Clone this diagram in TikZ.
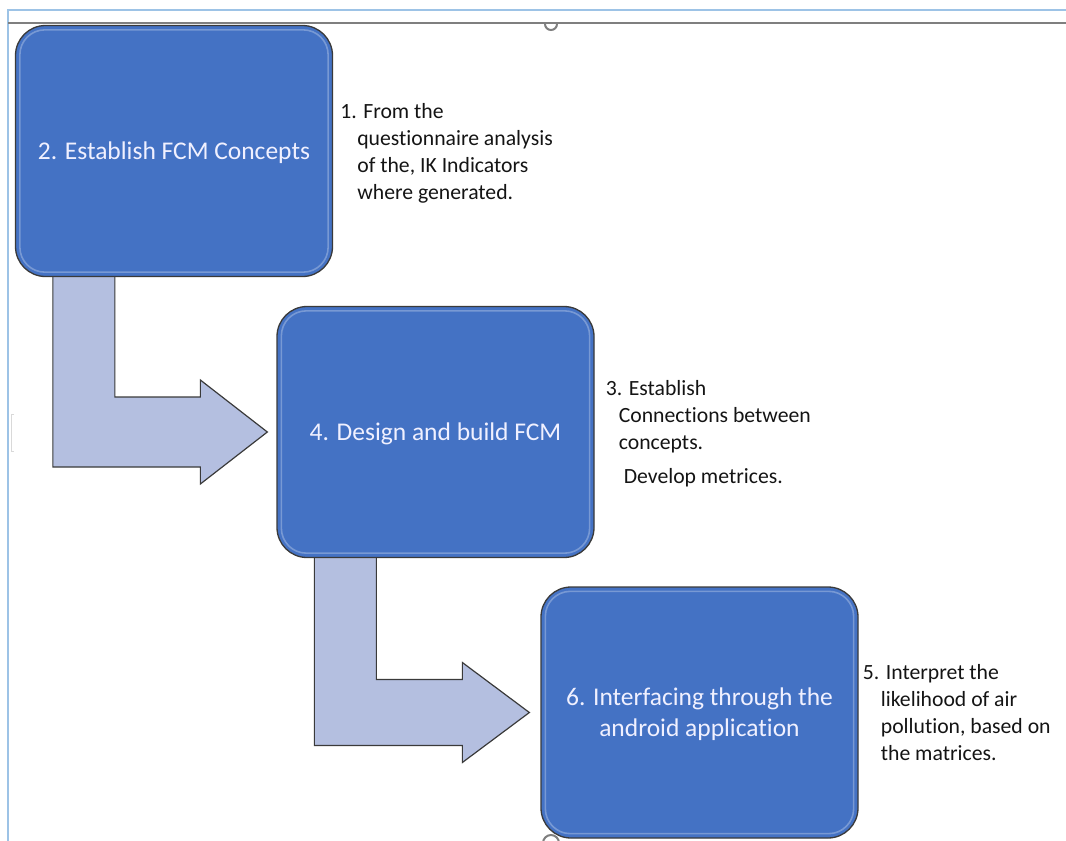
\documentclass[tikz,border=0pt]{standalone}
\usepackage{fontspec}
\setmainfont{Carlito}[Ligatures=NoCommon]
\usetikzlibrary{calc,backgrounds}
\definecolor{boxblue}{HTML}{4472C4}
\definecolor{arrowfill}{HTML}{B4BFE0}
\definecolor{framelite}{HTML}{9DC3E6}
\definecolor{edge}{HTML}{3A3A3A}
\definecolor{rulegray}{HTML}{7F7F7F}
\begin{document}
\begin{tikzpicture}[x=1pt,y=-1pt,
  stepbox/.style={draw=edge, line width=1.3pt, fill=boxblue, rounded corners=30pt,
    minimum width=317pt, minimum height=251pt, inner sep=0pt, text depth=0pt,
    text=white!94!blue, font=\fontsize{25.5}{31}\selectfont, align=center},
  sheen/.style={draw=white, draw opacity=0.28, line width=1.6pt, rounded corners=25pt},
  bentarrow/.style={draw=edge, line width=1.2pt, fill=arrowfill, line join=miter},
  note/.style={anchor=north west, inner sep=0pt, align=left, text=black!92,
    font=\fontsize{21.7}{27}\selectfont},
  handle/.style={draw=rulegray, line width=2pt}]
\useasboundingbox (0,0) rectangle (1066,841);

% page frame and ruler line
\draw[framelite, line width=1.5pt] (8,841) -- (8,10) -- (1066,10);
\draw[rulegray, line width=1.5pt] (8,23) -- (1066,23);
\draw[black!15, line width=1pt] (14,414) -- (11,414) -- (11,451) -- (14,451);

% process boxes
\node[stepbox] (b1) at (174,151) {2. Establish FCM Concepts};
\node[stepbox] (b2) at (435.5,432) {4. Design and build FCM};
\node[stepbox] (b3) at (699.5,712.5) {6. Interfacing through the\\android application};

\foreach \b in {b1,b2,b3}
  \draw[sheen] ($(\b.south west)+(5,-5)$) rectangle ($(\b.north east)+(-5,5)$);

% side notes
\node[note] (t1) at ($(b1.north east)+(7,78)$)
  {1. From the\\\hspace*{17pt}questionnaire analysis\\\hspace*{17pt}of the, IK Indicators\\\hspace*{17pt}where generated.};
\node[note] (t3) at ($(b2.north east)+(11,74)$)
  {3. Establish\\\hspace*{13pt}Connections between\\\hspace*{13pt}concepts.\\[7pt]\hspace*{18pt}Develop metrices.};
\node[note] (t5) at ($(b3.north east)+(4,78)$)
  {5. Interpret the\\\hspace*{18pt}likelihood of air\\\hspace*{18pt}pollution, based on\\\hspace*{18pt}the matrices.};

% bent arrows from one box to the next, behind the boxes
\begin{scope}[on background layer]
  \draw[bentarrow] let \p1=(b1.south west), \p2=(b2.west) in
    (\x1+38pt,\y1+8pt) -- (\x1+38pt,\y2-35pt) -- (\x2-76pt,\y2-35pt) -- (\x2-76pt,\y2-52pt)
    -- (\x2-9pt,\y2) -- (\x2-76pt,\y2+52pt) -- (\x2-76pt,\y2+35pt)
    -- (\x1+100pt,\y2+35pt) -- (\x1+100pt,\y1+8pt) -- cycle;
  \draw[bentarrow] let \p1=(b2.south west), \p2=(b3.west) in
    (\x1+38pt,\y1+8pt) -- (\x1+38pt,\y2-33pt) -- (\x2-78pt,\y2-33pt) -- (\x2-78pt,\y2-50pt)
    -- (\x2-11pt,\y2) -- (\x2-78pt,\y2+50pt) -- (\x2-78pt,\y2+33pt)
    -- (\x1+100pt,\y2+33pt) -- (\x1+100pt,\y1+8pt) -- cycle;
\end{scope}

% selection handles
\draw[handle] (545,24) arc[start angle=180, end angle=0, radius=6];
\draw[handle] (543,843) arc[start angle=180, end angle=360, radius=8];
\end{tikzpicture}
\end{document}
